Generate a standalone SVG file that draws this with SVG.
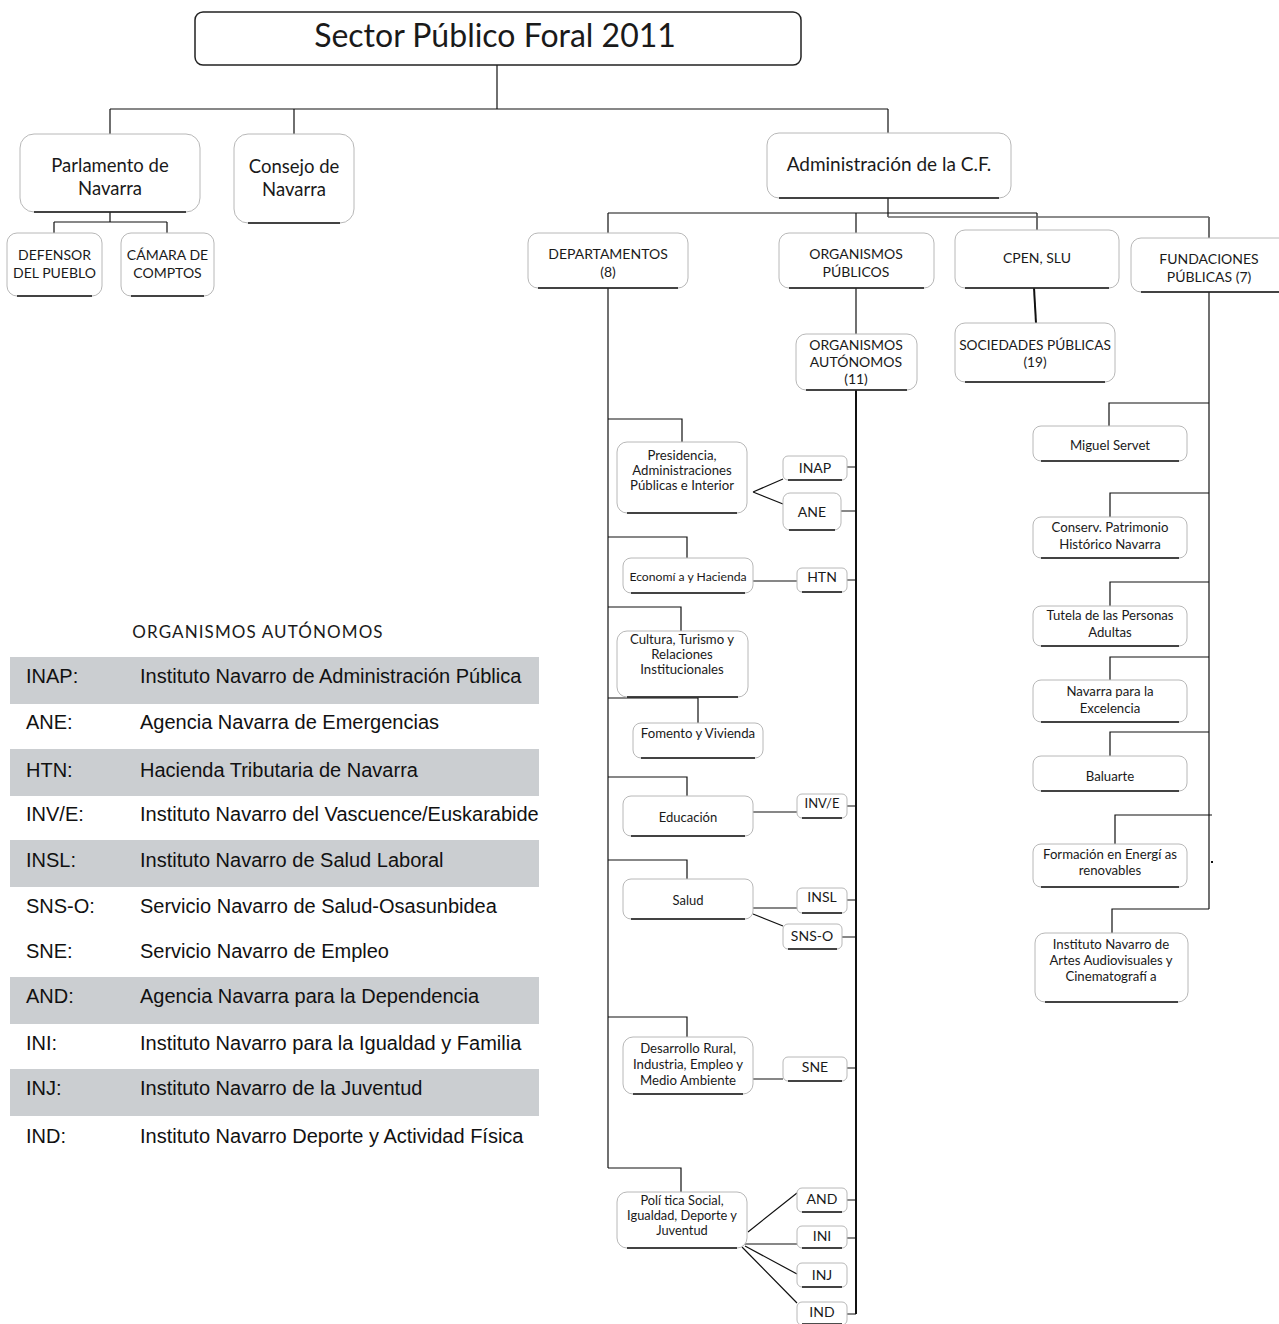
<svg xmlns="http://www.w3.org/2000/svg" width="1279" height="1324" viewBox="0 0 1279 1324">
<style>
.bg{fill:#fff}
.box{fill:#fff;stroke:#b8b8b8;stroke-width:1}
.base{stroke:#111;stroke-width:1.5}
.t{font-family:Lato,"Open Sans","Liberation Sans",sans-serif;fill:#1a1a1a;text-anchor:middle}
.c{fill:none;stroke:#111;stroke-width:1.2}
.ct{fill:none;stroke:#111;stroke-width:2}
.lg{font-family:"Liberation Sans",Arial,sans-serif;font-size:20px;fill:#111}
.band{fill:#cbced1}
.cap{font-size:14px}
.d{font-size:13.2px}
.s{font-size:14px}
</style>
<rect class="bg" width="1279" height="1324"/>

<g id="connectors">
<path class="c" d="M497,65V109M110,109H888M110,109V134M294,109V134M888,109V133"/>
<path class="c" d="M110,212V222M54,222H167M54,222V233M167,222V233"/>
<path class="c" d="M888,198V217M608,213H1037M608,213V233M856,213V233M1037,213V230M1209,217V238"/>
<path fill="none" stroke="#666" stroke-width="1.5" d="M888,217H1209"/>
<path class="c" d="M856,288V334"/>
<path class="ct" d="M1034,288L1036,323"/>
<path class="c" stroke-width="1.5" d="M608,288V1168"/>
<path class="ct" d="M856,390V1314"/>
<path class="c" stroke-width="1.5" d="M1209,292V909"/>
<path class="c" d="M608,419H682V442M608,537H687V558M608,607H681V631M608,698H698V723M608,777H687V796M608,860H687V879M608,1017H687V1037M608,1168H681V1192"/>
<path class="c" d="M753,492L783,479M753,492L783,504M753,581H797M753,812H797M753,908H797M753,914L783,926M753,1079H783M748,1232L797,1193M744,1244H797M745,1246L797,1274M742,1247L797,1303"/>
<path class="c" d="M847,467H856M841,511H856M847,580H856M847,806H856M847,900H856M842,937H856M847,1068H856M847,1200H856M847,1238H856M847,1314H856"/>
<path class="c" d="M1209,403H1109V426M1209,493H1110V517M1209,582H1110V606M1209,657H1110V680M1209,732H1110V756M1212,815H1115V844M1209,909H1112V933"/>
<rect x="1211" y="861" width="2" height="2" fill="#111"/>
</g>

<g id="title">
<rect x="195" y="12" width="606" height="53" rx="8" fill="#fff" stroke="#222" stroke-width="1.5"/>
<text class="t" x="495" y="47" font-size="32">Sector Público Foral 2011</text>
</g>

<g id="parlamento">
<rect class="box" x="20" y="134" width="180" height="78" rx="14"/>
<line class="base" x1="34" y1="212" x2="186" y2="212"/>
<text class="t" x="110" y="172" font-size="18.5">Parlamento de</text>
<text class="t" x="110" y="195" font-size="18.5">Navarra</text>
</g>
<g id="consejo">
<rect class="box" x="234" y="134" width="120" height="89" rx="14"/>
<line class="base" x1="248" y1="223" x2="340" y2="223"/>
<text class="t" x="294" y="173" font-size="18.5">Consejo de</text>
<text class="t" x="294" y="196" font-size="18.5">Navarra</text>
</g>
<g id="defensor">
<rect class="box" x="7" y="233" width="95" height="63" rx="10"/>
<line class="base" x1="17" y1="296" x2="92" y2="296"/>
<text class="t cap" x="54.5" y="260">DEFENSOR</text>
<text class="t cap" x="54.5" y="278">DEL PUEBLO</text>
</g>
<g id="camara">
<rect class="box" x="121" y="233" width="93" height="63" rx="10"/>
<line class="base" x1="131" y1="296" x2="204" y2="296"/>
<text class="t cap" x="167.5" y="260">CÁMARA DE</text>
<text class="t cap" x="167.5" y="278">COMPTOS</text>
</g>
<g id="admin">
<rect class="box" x="767" y="133" width="244" height="65" rx="12"/>
<line class="base" x1="779" y1="198" x2="999" y2="198"/>
<text class="t" x="889" y="171" font-size="19">Administración de la C.F.</text>
</g>
<g id="departamentos">
<rect class="box" x="528" y="233" width="160" height="55" rx="10"/>
<line class="base" x1="538" y1="288" x2="678" y2="288"/>
<text class="t cap" x="608" y="259">DEPARTAMENTOS</text>
<text class="t cap" x="608" y="277">(8)</text>
</g>
<g id="orgpublicos">
<rect class="box" x="779" y="233" width="155" height="55" rx="10"/>
<line class="base" x1="789" y1="288" x2="924" y2="288"/>
<text class="t cap" x="856" y="259">ORGANISMOS</text>
<text class="t cap" x="856" y="277">PÚBLICOS</text>
</g>
<g id="cpen">
<rect class="box" x="955" y="230" width="164" height="58" rx="10"/>
<line class="base" x1="965" y1="288" x2="1109" y2="288"/>
<text class="t cap" x="1037" y="263">CPEN, SLU</text>
</g>
<g id="fundaciones">
<rect class="box" x="1131" y="238" width="170" height="54" rx="10"/>
<line class="base" x1="1141" y1="292" x2="1279" y2="292"/>
<text class="t cap" x="1209" y="264">FUNDACIONES</text>
<text class="t cap" x="1209" y="282">PÚBLICAS (7)</text>
</g>
<g id="orgautonomos">
<rect class="box" x="796" y="334" width="121" height="56" rx="10"/>
<line class="base" x1="806" y1="390" x2="907" y2="390"/>
<text class="t cap" x="856" y="350">ORGANISMOS</text>
<text class="t cap" x="856" y="367">AUTÓNOMOS</text>
<text class="t cap" x="856" y="384">(11)</text>
</g>
<g id="sociedades">
<rect class="box" x="955" y="323" width="160" height="59" rx="10"/>
<line class="base" x1="965" y1="382" x2="1105" y2="382"/>
<text class="t" x="1035" y="350" font-size="13.7">SOCIEDADES PÚBLICAS</text>
<text class="t" x="1035" y="367" font-size="13.7">(19)</text>
</g>

<g id="presidencia">
<rect class="box" x="617" y="442" width="130" height="71" rx="10"/>
<line class="base" x1="627" y1="513" x2="737" y2="513"/>
<text class="t d" x="682" y="460">Presidencia,</text>
<text class="t d" x="682" y="475">Administraciones</text>
<text class="t d" x="682" y="490">Públicas e Interior</text>
</g>
<g id="economia">
<rect class="box" x="623" y="558" width="130" height="35" rx="8"/>
<line class="base" x1="631" y1="593" x2="745" y2="593"/>
<text class="t" x="688" y="581" font-size="12.2">Economí a y Hacienda</text>
</g>
<g id="cultura">
<rect class="box" x="617" y="631" width="131" height="66" rx="10"/>
<line class="base" x1="627" y1="697" x2="738" y2="697"/>
<text class="t d" x="682" y="644">Cultura, Turismo y</text>
<text class="t d" x="682" y="659">Relaciones</text>
<text class="t d" x="682" y="674">Institucionales</text>
</g>
<g id="fomento">
<rect class="box" x="633" y="723" width="130" height="35" rx="8"/>
<line class="base" x1="641" y1="758" x2="755" y2="758"/>
<text class="t" x="698" y="738" font-size="13.2">Fomento y Vivienda</text>
</g>
<g id="educacion">
<rect class="box" x="623" y="796" width="130" height="40" rx="8"/>
<line class="base" x1="631" y1="836" x2="745" y2="836"/>
<text class="t" x="688" y="822" font-size="13">Educación</text>
</g>
<g id="salud">
<rect class="box" x="623" y="879" width="130" height="40" rx="8"/>
<line class="base" x1="631" y1="919" x2="745" y2="919"/>
<text class="t" x="688" y="905" font-size="13">Salud</text>
</g>
<g id="desarrollo">
<rect class="box" x="623" y="1037" width="130" height="57" rx="10"/>
<line class="base" x1="633" y1="1094" x2="743" y2="1094"/>
<text class="t d" x="688" y="1053">Desarrollo Rural,</text>
<text class="t d" x="688" y="1069">Industria, Empleo y</text>
<text class="t d" x="688" y="1085">Medio Ambiente</text>
</g>
<g id="politica">
<rect class="box" x="617" y="1192" width="130" height="56" rx="10"/>
<line class="base" x1="627" y1="1248" x2="737" y2="1248"/>
<text class="t" x="682" y="1205" font-size="12.8">Polí tica Social,</text>
<text class="t" x="682" y="1220" font-size="12.8">Igualdad, Deporte y</text>
<text class="t" x="682" y="1235" font-size="12.8">Juventud</text>
</g>

<g id="inap"><rect class="box" x="783" y="456" width="64" height="24" rx="5"/><line class="base" x1="788" y1="480" x2="842" y2="480"/><text class="t s" x="815" y="473">INAP</text></g>
<g id="ane"><rect class="box" x="783" y="493" width="58" height="37" rx="7"/><line class="base" x1="789" y1="530" x2="835" y2="530"/><text class="t s" x="812" y="517">ANE</text></g>
<g id="htn"><rect class="box" x="797" y="568" width="50" height="24" rx="5"/><line class="base" x1="802" y1="592" x2="842" y2="592"/><text class="t s" x="822" y="582">HTN</text></g>
<g id="inve"><rect class="box" x="797" y="794" width="50" height="24" rx="5"/><line class="base" x1="802" y1="818" x2="842" y2="818"/><text class="t" x="822" y="808" font-size="13">INV/E</text></g>
<g id="insl"><rect class="box" x="797" y="888" width="50" height="25" rx="5"/><line class="base" x1="802" y1="913" x2="842" y2="913"/><text class="t s" x="822" y="902">INSL</text></g>
<g id="snso"><rect class="box" x="783" y="924" width="59" height="25" rx="5"/><line class="base" x1="788" y1="949" x2="837" y2="949"/><text class="t s" x="812" y="941">SNS-O</text></g>
<g id="sne"><rect class="box" x="783" y="1057" width="64" height="24" rx="5"/><line class="base" x1="788" y1="1081" x2="842" y2="1081"/><text class="t s" x="815" y="1072">SNE</text></g>
<g id="and"><rect class="box" x="797" y="1188" width="50" height="24" rx="5"/><line class="base" x1="802" y1="1212" x2="842" y2="1212"/><text class="t s" x="822" y="1204">AND</text></g>
<g id="ini"><rect class="box" x="797" y="1226" width="50" height="22" rx="5"/><line class="base" x1="802" y1="1248" x2="842" y2="1248"/><text class="t s" x="822" y="1241">INI</text></g>
<g id="inj"><rect class="box" x="797" y="1263" width="50" height="24" rx="5"/><line class="base" x1="802" y1="1287" x2="842" y2="1287"/><text class="t s" x="822" y="1280">INJ</text></g>
<g id="ind"><rect class="box" x="797" y="1302" width="50" height="23" rx="5"/><line class="base" x1="802" y1="1324" x2="842" y2="1324"/><text class="t s" x="822" y="1317">IND</text></g>

<g id="miguel"><rect class="box" x="1033" y="426" width="154" height="35" rx="8"/><line class="base" x1="1041" y1="461" x2="1179" y2="461"/><text class="t d" x="1110" y="450">Miguel Servet</text></g>
<g id="conserv"><rect class="box" x="1033" y="517" width="154" height="41" rx="8"/><line class="base" x1="1041" y1="558" x2="1179" y2="558"/><text class="t d" x="1110" y="532">Conserv. Patrimonio</text><text class="t d" x="1110" y="549">Histórico Navarra</text></g>
<g id="tutela"><rect class="box" x="1033" y="606" width="154" height="40" rx="8"/><line class="base" x1="1041" y1="646" x2="1179" y2="646"/><text class="t d" x="1110" y="620">Tutela de las Personas</text><text class="t d" x="1110" y="637">Adultas</text></g>
<g id="excelencia"><rect class="box" x="1033" y="680" width="154" height="42" rx="8"/><line class="base" x1="1041" y1="722" x2="1179" y2="722"/><text class="t d" x="1110" y="696">Navarra para la</text><text class="t d" x="1110" y="713">Excelencia</text></g>
<g id="baluarte"><rect class="box" x="1033" y="756" width="154" height="35" rx="8"/><line class="base" x1="1041" y1="791" x2="1179" y2="791"/><text class="t d" x="1110" y="781">Baluarte</text></g>
<g id="formacion"><rect class="box" x="1033" y="844" width="154" height="43" rx="8"/><line class="base" x1="1041" y1="887" x2="1179" y2="887"/><text class="t d" x="1110" y="859">Formación en Energí as</text><text class="t d" x="1110" y="875">renovables</text></g>
<g id="instituto"><rect class="box" x="1035" y="933" width="153" height="69" rx="10"/><line class="base" x1="1045" y1="1002" x2="1178" y2="1002"/><text class="t d" x="1111" y="949">Instituto Navarro de</text><text class="t d" x="1111" y="965">Artes Audiovisuales y</text><text class="t d" x="1111" y="981">Cinematografí a</text></g>

<g id="legend">
<text class="t" x="258" y="638" font-size="17" letter-spacing="1.1">ORGANISMOS AUTÓNOMOS</text>
<rect class="band" x="10" y="657" width="529" height="47"/>
<rect class="band" x="10" y="749" width="529" height="47"/>
<rect class="band" x="10" y="840" width="529" height="47"/>
<rect class="band" x="10" y="977" width="529" height="47"/>
<rect class="band" x="10" y="1069" width="529" height="47"/>
<text class="lg" x="26" y="683">INAP:</text><text class="lg" x="140" y="683">Instituto Navarro de Administración Pública</text>
<text class="lg" x="26" y="729">ANE:</text><text class="lg" x="140" y="729">Agencia Navarra de Emergencias</text>
<text class="lg" x="26" y="777">HTN:</text><text class="lg" x="140" y="777">Hacienda Tributaria de Navarra</text>
<text class="lg" x="26" y="821">INV/E:</text><text class="lg" x="140" y="821">Instituto Navarro del Vascuence/Euskarabide</text>
<text class="lg" x="26" y="867">INSL:</text><text class="lg" x="140" y="867">Instituto Navarro de Salud Laboral</text>
<text class="lg" x="26" y="913">SNS-O:</text><text class="lg" x="140" y="913">Servicio Navarro de Salud-Osasunbidea</text>
<text class="lg" x="26" y="958">SNE:</text><text class="lg" x="140" y="958">Servicio Navarro de Empleo</text>
<text class="lg" x="26" y="1003">AND:</text><text class="lg" x="140" y="1003">Agencia Navarra para la Dependencia</text>
<text class="lg" x="26" y="1050">INI:</text><text class="lg" x="140" y="1050">Instituto Navarro para la Igualdad y Familia</text>
<text class="lg" x="26" y="1095">INJ:</text><text class="lg" x="140" y="1095">Instituto Navarro de la Juventud</text>
<text class="lg" x="26" y="1143">IND:</text><text class="lg" x="140" y="1143">Instituto Navarro Deporte y Actividad Física</text>
</g>
</svg>
